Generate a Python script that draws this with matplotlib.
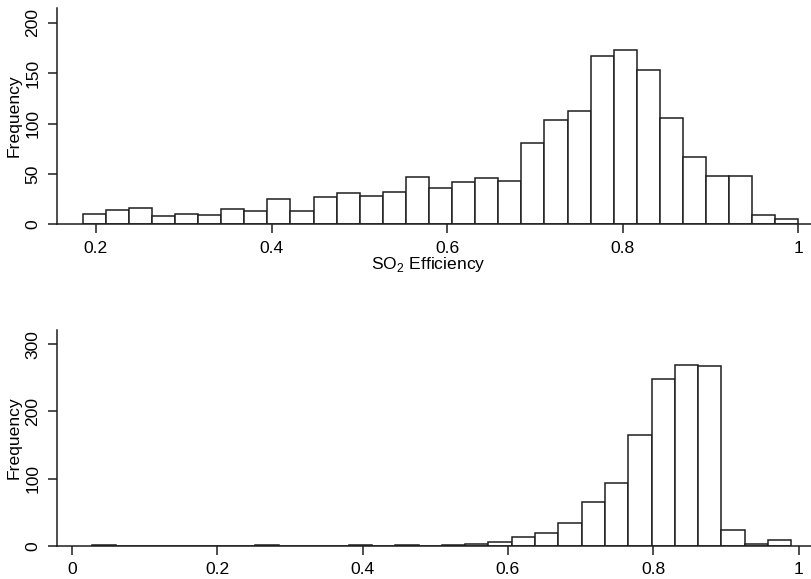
import numpy as np
import matplotlib
matplotlib.use("Agg")
import matplotlib.pyplot as plt

plt.rcParams["font.family"] = ["Liberation Sans", "DejaVu Sans"]
plt.rcParams["mathtext.fontset"] = "custom"
plt.rcParams["mathtext.rm"] = "Liberation Sans"
plt.rcParams["font.size"] = 12.6

# top histogram: SO2 efficiency, 31 bins
top_bin_start = 0.1849
top_bin_width = 0.02629
top_counts = [10, 14, 16, 8, 10, 9, 15, 13, 25, 13, 27, 31, 28, 32, 47, 36,
              42, 46, 43, 81, 104, 113, 167, 173, 153, 106, 67, 48, 48, 9, 5]
top_yticks = [0, 50, 100, 150, 200]
top_xticks = [0.2, 0.4, 0.6, 0.8, 1.0]
top_xticklabels = ["0.2", "0.4", "0.6", "0.8", "1"]

# bottom histogram, 30 bins
bot_bin_start = 0.0284
bot_bin_width = 0.03205
bot_counts = [1, 0, 0, 0, 0, 0, 0, 1, 0, 0, 0, 1, 0, 1, 0, 1, 3, 6, 13, 19,
              34, 65, 94, 165, 248, 269, 268, 24, 2, 9]
bot_yticks = [0, 100, 200, 300]
bot_xticks = [0, 0.2, 0.4, 0.6, 0.8, 1.0]
bot_xticklabels = ["0", "0.2", "0.4", "0.6", "0.8", "1"]

line_col = "#1e1e1e"

fig = plt.figure(figsize=(8.11, 5.79), dpi=100)
ax1 = fig.add_axes([0.0703, 0.6126, 0.9297, 0.3736])
ax2 = fig.add_axes([0.0703, 0.0575, 0.9297, 0.3726])


def draw_hist(ax, start, width, counts, xlim, ylim, yticks, xticks, xticklabels):
    lefts = start + width * np.arange(len(counts))
    ax.bar(lefts, counts, width=width, align="edge", color="white",
           edgecolor=line_col, linewidth=1.1)
    ax.set_xlim(*xlim)
    ax.set_ylim(*ylim)
    ax.set_yticks(yticks)
    ax.set_yticklabels([str(t) for t in yticks], rotation=90, va="center")
    ax.set_xticks(xticks)
    ax.set_xticklabels(xticklabels)
    for s in ["top", "right"]:
        ax.spines[s].set_visible(False)
    for s in ["left", "bottom"]:
        ax.spines[s].set_color(line_col)
        ax.spines[s].set_linewidth(1.1)
    ax.tick_params(length=6.5, width=1.1, color=line_col, pad=5.5)
    ax.set_ylabel("Frequency")
    ax.yaxis.set_label_coords(-0.0475, 0.5)
    ax.patch.set_visible(False)


draw_hist(ax1, top_bin_start, top_bin_width, top_counts,
          (0.1556, 1.0143), (0, 214.9), top_yticks, top_xticks, top_xticklabels)
ax1.set_xlabel(r"SO$_\mathrm{2}$ Efficiency")
ax1.xaxis.set_label_coords(0.492, -0.142)

draw_hist(ax2, bot_bin_start, bot_bin_width, bot_counts,
          (-0.0202, 1.0169), (0, 321), bot_yticks, bot_xticks, bot_xticklabels)

fig.savefig("out.png", dpi=100)
